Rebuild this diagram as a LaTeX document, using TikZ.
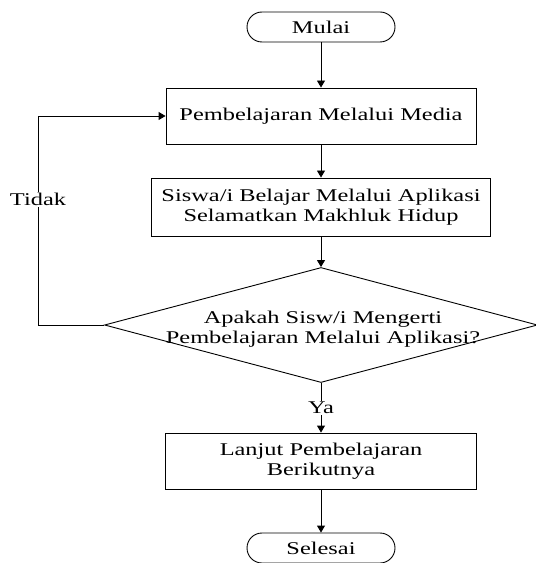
\documentclass[tikz,border=0pt]{standalone}
\usepackage{fontspec}
\setmainfont{Liberation Serif}[FakeStretch=1.36]
\usetikzlibrary{arrows.meta,shapes.geometric}

\begin{document}
\begin{tikzpicture}[x=1bp, y=-1bp, >={Triangle[length=7bp,width=8bp]},
		font=\fontsize{18}{19.5}\selectfont, line width=0.9bp,
		terminal/.style={draw, rounded corners=15bp, minimum width=148bp, minimum height=30bp, inner sep=0pt},
		proses/.style={draw, align=center, inner sep=0pt},
		keputusan/.style={draw, diamond, minimum width=433bp, minimum height=115bp, inner sep=0pt}]
		\useasboundingbox (0,0) rectangle (536,563);
		% alur utama
		\node[terminal] (mulai) at (321,27) {Mulai};
		\node[proses, minimum width=310bp, minimum height=56bp] (media) at (321,116) {Pembelajaran Melalui Media};
		\node[proses, minimum width=339bp, minimum height=58bp] (aplikasi) at (321,207) {Siswa/i Belajar Melalui Aplikasi\\Selamatkan Makhluk Hidup};
		\node[keputusan] (tanya) at (321,325) {};
		\node[align=center, inner sep=0pt] (tanyateks) at (323,329) {Apakah Sisw/i Mengerti\\Pembelajaran Melalui Aplikasi?};
		\node[proses, minimum width=311bp, minimum height=56bp] (lanjut) at (321,461) {Lanjut Pembelajaran\\Berikutnya};
		\node[terminal] (selesai) at (321,548) {Selesai};
		\draw[->] (mulai) -- (media);
		\draw[->] (media) -- (aplikasi);
		\draw[->] (aplikasi) -- (tanya);
		\draw[->] (tanya) -- node[fill=white, inner sep=1pt] (ya) {Ya} (lanjut);
		\draw[->] (lanjut) -- (selesai);
		% kembali
		\coordinate (belok) at (38,0);
		\draw[->] (tanya.west) -- (tanya.west -| belok)
			-- node[pos=0.6, fill=white, inner sep=1pt] (tidak) {Tidak} (media.west -| belok)
			-- (media.west);
	\end{tikzpicture}
\end{document}
